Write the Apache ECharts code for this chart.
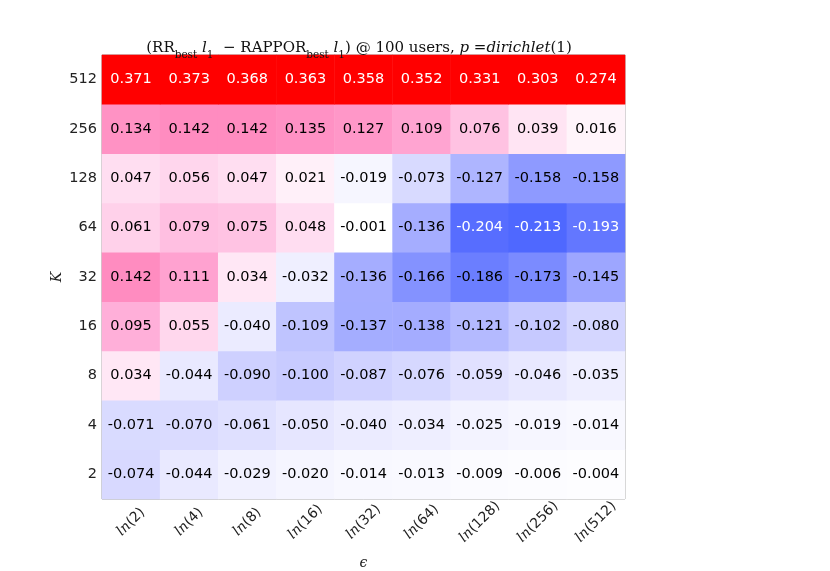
<!DOCTYPE html>
<html><head><meta charset="utf-8">
<script src="https://cdn.jsdelivr.net/npm/echarts@6/dist/echarts.min.js"></script>
<style>html,body{margin:0;padding:0;background:#fff}#c{width:830px;height:571px}</style>
</head><body><div id="c"></div>
<script>
const xCats = ['2','4','8','16','32','64','128','256','512'];
const yCats = ['2','4','8','16','32','64','128','256','512'];
// rows from K=512 (top) to K=2 (bottom)
const row512 = [0.371,0.373,0.368,0.363,0.358,0.352,0.331,0.303,0.274];
const row256 = [0.134,0.142,0.142,0.135,0.127,0.109,0.076,0.039,0.016];
const row128 = [0.047,0.056,0.047,0.021,-0.019,-0.073,-0.127,-0.158,-0.158];
const row64  = [0.061,0.079,0.075,0.048,-0.001,-0.136,-0.204,-0.213,-0.193];
const row32  = [0.142,0.111,0.034,-0.032,-0.136,-0.166,-0.186,-0.173,-0.145];
const row16  = [0.095,0.055,-0.040,-0.109,-0.137,-0.138,-0.121,-0.102,-0.080];
const row8   = [0.034,-0.044,-0.090,-0.100,-0.087,-0.076,-0.059,-0.046,-0.035];
const row4   = [-0.071,-0.070,-0.061,-0.050,-0.040,-0.034,-0.025,-0.019,-0.014];
const row2   = [-0.074,-0.044,-0.029,-0.020,-0.014,-0.013,-0.009,-0.006,-0.004];
const rows = {'2':row2,'4':row4,'8':row8,'16':row16,'32':row32,'64':row64,'128':row128,'256':row256,'512':row512};

const data = [];
yCats.forEach((k, yi) => {
  rows[k].forEach((v, xi) => data.push({value: [xi, yi, v], label: {color: Math.abs(v) > 0.19 ? '#fff' : '#000'}}));
});

const chart = echarts.init(document.getElementById('c'));
chart.setOption({
  animation: false,
  title: {
    text: '{n|(RR}{s|best}{n| }{i|l}{s|1}{n|  − RAPPOR}{s|best}{n| }{i|l}{s|1}{n|) @ 100 users, }{i|p}{n| =}{i|dirichlet}{n|(1)}',
    left: 354, top: 33, textAlign: 'center',
    textStyle: {
      fontWeight: 'normal',
      rich: {
        n: {fontFamily: 'DejaVu Serif', fontWeight: 'normal', fontSize: 15, color: '#111', lineHeight: 18, verticalAlign: 'bottom'},
        i: {fontFamily: 'DejaVu Serif', fontWeight: 'normal', fontStyle: 'italic', fontSize: 15, color: '#111', lineHeight: 18, verticalAlign: 'bottom'},
        s: {fontFamily: 'DejaVu Serif', fontWeight: 'normal', fontSize: 10.5, color: '#111', lineHeight: 14, verticalAlign: 'bottom', padding: [0,0,-5,0]}
      }
    }
  },
  grid: {left: 102, top: 55, right: 205, bottom: 72, outerBoundsMode: 'none', containLabel: false,
         show: true, borderColor: '#999', borderWidth: 1, backgroundColor: 'transparent'},
  xAxis: {
    type: 'category', data: xCats,
    name: 'ϵ', nameLocation: 'middle', nameGap: 57, nameMoveOverlap: false,
    nameTextStyle: {fontFamily: 'DejaVu Serif', fontStyle: 'italic', fontSize: 14, color: '#222'},
    axisLine: {show: false}, axisTick: {show: false}, splitLine: {show: false},
    axisLabel: {
      rotate: 45, margin: 23, align: 'center', verticalAlign: 'middle',
      formatter: v => '{i|ln}{n|(' + v + ')}',
      rich: {
        i: {fontFamily: 'DejaVu Serif', fontStyle: 'italic', fontSize: 14, color: '#222'},
        n: {fontFamily: 'DejaVu Sans', fontSize: 14, color: '#222'}
      }
    }
  },
  yAxis: {
    type: 'category', data: yCats,
    name: 'K', nameLocation: 'middle', nameGap: 38, nameRotate: 90, nameMoveOverlap: false,
    nameTextStyle: {fontFamily: 'DejaVu Serif', fontStyle: 'italic', fontSize: 14, color: '#222'},
    axisLine: {show: false}, axisTick: {show: false}, splitLine: {show: false},
    axisLabel: {fontFamily: 'DejaVu Sans', fontSize: 14.5, color: '#222', margin: 5}
  },
  visualMap: {
    show: false, type: 'continuous', min: -0.25, max: 0.25, dimension: 2,
    inRange: {color: ['#3050ff','#5a70ff','#98a2ff','#c8cbff','#e6e6ff','#ffffff','#ffdcf0','#ffaad6','#ff86bc','#ff4070','#ff0000']}
  },
  series: [{
    type: 'heatmap', data: data,
    itemStyle: {borderWidth: 0},
    label: {
      show: true, fontFamily: 'DejaVu Sans', fontSize: 14.5,
      formatter: p => p.value[2].toFixed(3)
    },
    emphasis: {disabled: true}
  }]
});
</script></body></html>
